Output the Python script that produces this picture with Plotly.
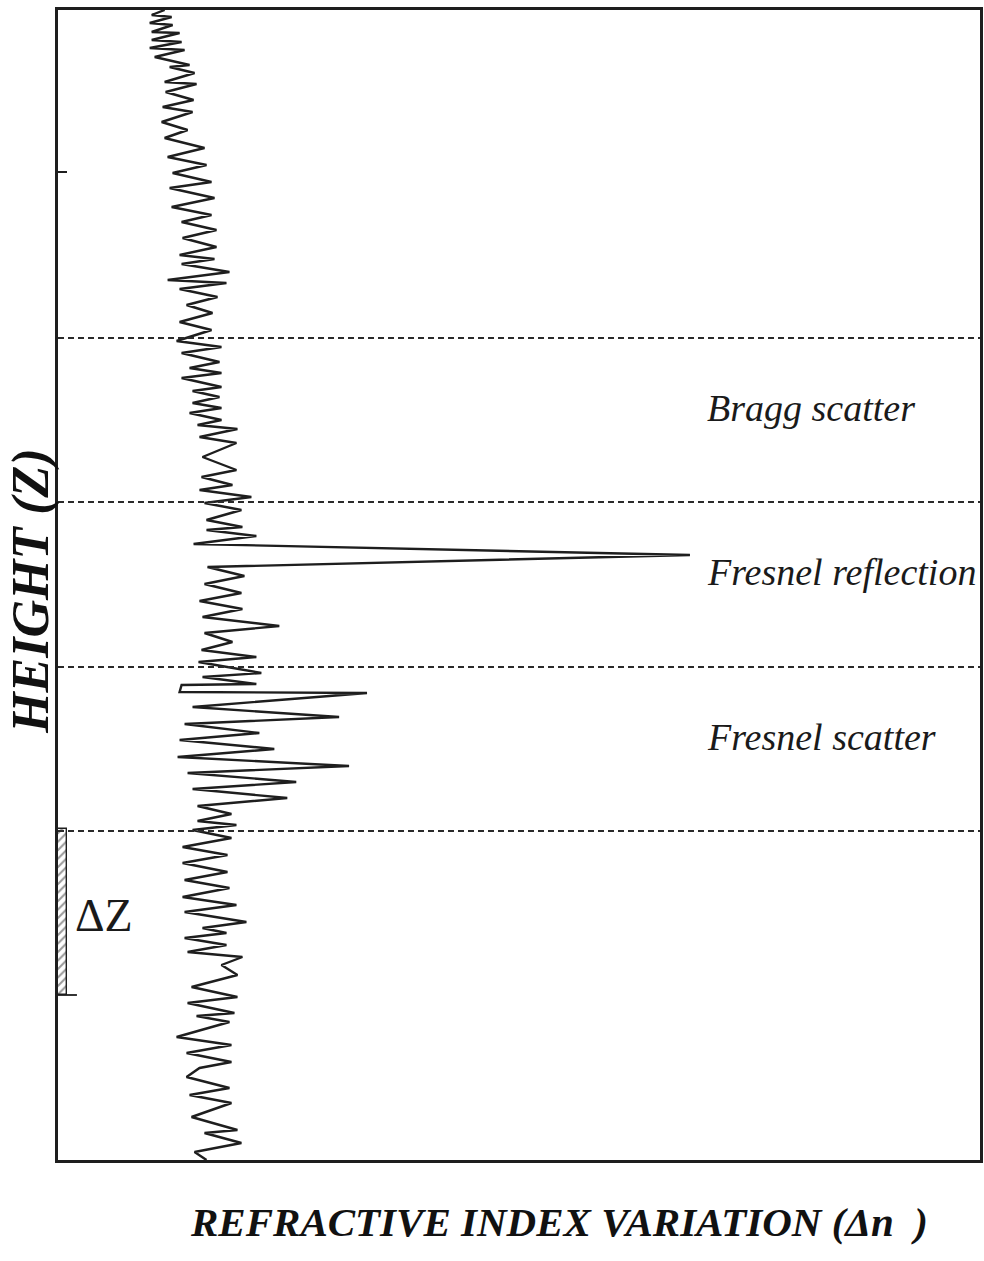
import plotly.graph_objects as go

# Refractive index profile: height (arbitrary units, 0 at ground) and Δn (arbitrary units)
height = [
    1150, 1145, 1143, 1137, 1135, 1128, 1127, 1120, 1118, 1112, 1110, 1103, 1095, 1093,
    1087, 1078, 1076, 1068, 1060, 1053, 1048, 1038, 1030, 1022, 1012, 1003, 995, 987,
    978, 972, 962, 953, 945, 938, 930, 922, 913, 905, 901, 896, 888, 880, 877, 871,
    863, 855, 847, 838, 830, 819, 813, 807, 798, 792, 787, 782, 773, 769, 763, 757,
    752, 747, 740, 735, 731, 723, 717, 703, 690, 683, 675, 670, 663, 657, 650, 640,
    633, 630, 624, 616, 605, 593, 584, 576, 567, 559, 551, 543, 534, 527, 518, 510,
    503, 498, 487, 483, 476, 475, 468, 467, 453, 443, 436, 427, 420, 411, 403, 394,
    387, 378, 371, 362, 354, 346, 339, 335, 330, 322, 313, 305, 297, 288, 280, 272,
    263, 255, 248, 238, 232, 227, 222, 215, 208, 203, 195, 185, 173, 163, 157, 147,
    144, 138, 123, 115, 107, 98, 92, 83, 72, 65, 57, 43, 30, 27, 17, 8, 0,
]
delta_n = [
    107, 94, 114, 92, 115, 94, 122, 94, 124, 92, 127, 97, 132, 112,
    137, 107, 139, 108, 136, 105, 135, 104, 130, 107, 147, 110, 149, 115,
    154, 112, 157, 114, 154, 124, 159, 125, 159, 122, 157, 124, 172, 110, 169, 122,
    160, 129, 155, 122, 154, 119, 164, 124, 162, 132, 164, 124, 164, 135, 162, 135,
    164, 132, 164, 140, 180, 142, 179, 145, 179, 144, 175, 142, 194, 147, 184, 149,
    185, 149, 199, 136, 634, 150, 187, 147, 184, 142, 185, 145, 222, 147, 175, 144,
    199, 141, 204, 145, 199, 124, 122, 310, 135, 282, 127, 202, 122, 217, 120, 292,
    130, 239, 135, 230, 140, 174, 140, 179, 135, 174, 125, 170, 125, 170, 127, 172,
    125, 179, 127, 189, 145, 169, 127, 169, 130, 185, 164, 180, 134, 180, 130, 177,
    139, 172, 119, 174, 129, 174, 142, 129, 172, 132, 174, 134, 180, 147, 184, 137, 149,
]

# Boundaries between scattering regimes
layer_heights = [822, 658, 493, 329]

# Regime labels
labels = ["Bragg scatter", "Fresnel reflection", "Fresnel scatter"]
label_heights = [752, 588, 423]
label_dn = 649

# Range-resolution cell ΔZ
cell_bottom = 165
cell_top = 331
cell_width = 9

X_MAX = 925
Y_MAX = 1150
INK = "#1e1e1e"
SERIF = "Liberation Serif"

fig = go.Figure()

fig.add_trace(go.Bar(
    x=[cell_width / 2], y=[cell_top - cell_bottom], base=[cell_bottom],
    width=[cell_width],
    marker=dict(color="white", line=dict(color=INK, width=1.4),
                pattern=dict(shape="/", fgcolor="#333333", size=6, solidity=0.35)),
    showlegend=False, hoverinfo="skip",
))

fig.add_trace(go.Scatter(
    x=delta_n, y=height, mode="lines",
    line=dict(color=INK, width=2.4),
    showlegend=False, hoverinfo="skip", cliponaxis=True,
))

for h in layer_heights:
    fig.add_shape(type="line", xref="paper", yref="y", x0=0, x1=1, y0=h, y1=h,
                  line=dict(color="#2a2a2a", width=1.8, dash="6px,4px"))

# small marker at the bottom of the ΔZ cell
fig.add_shape(type="line", xref="x", yref="y", x0=0, x1=19, y0=cell_bottom, y1=cell_bottom,
              line=dict(color=INK, width=1.8))

for txt, h in zip(labels, label_heights):
    fig.add_annotation(x=label_dn, y=h, xref="x", yref="y", text=txt, showarrow=False,
                       xanchor="left", yanchor="middle",
                       font=dict(family=SERIF, size=38, color="#1a1a1a", style="italic"))

fig.add_annotation(x=46, y=245, xref="x", yref="y", text="ΔZ", showarrow=False,
                   xanchor="center", yanchor="middle",
                   font=dict(family=SERIF, size=46, color="#1a1a1a"))

fig.add_annotation(x=0.543, y=-0.054, xref="paper", yref="paper",
                   text="REFRACTIVE INDEX VARIATION (Δ<i>n</i>  )", showarrow=False,
                   xanchor="center", yanchor="middle",
                   font=dict(family=SERIF, size=41, color="#111111", style="italic", weight="bold"))

fig.add_annotation(x=-0.0292, y=0.495, xref="paper", yref="paper",
                   text="HEIGHT (Z)", showarrow=False, textangle=-90,
                   xanchor="center", yanchor="middle",
                   font=dict(family=SERIF, size=52, color="#111111", style="italic", weight="bold"))

fig.update_xaxes(range=[0, X_MAX], showgrid=False, zeroline=False, showticklabels=False,
                 showline=True, linecolor=INK, linewidth=2.5, mirror=True, ticks="")
fig.update_yaxes(range=[0, Y_MAX], showgrid=False, zeroline=False, showticklabels=False,
                 showline=True, linecolor=INK, linewidth=2.5, mirror=True,
                 ticks="inside", tickvals=[988], ticklen=9, tickwidth=1.8, tickcolor=INK)

fig.update_layout(
    width=984, height=1261,
    margin=dict(l=58, r=1, t=10, b=101),
    paper_bgcolor="white", plot_bgcolor="white",
    bargap=0, showlegend=False,
)

fig.write_html("out.html")
